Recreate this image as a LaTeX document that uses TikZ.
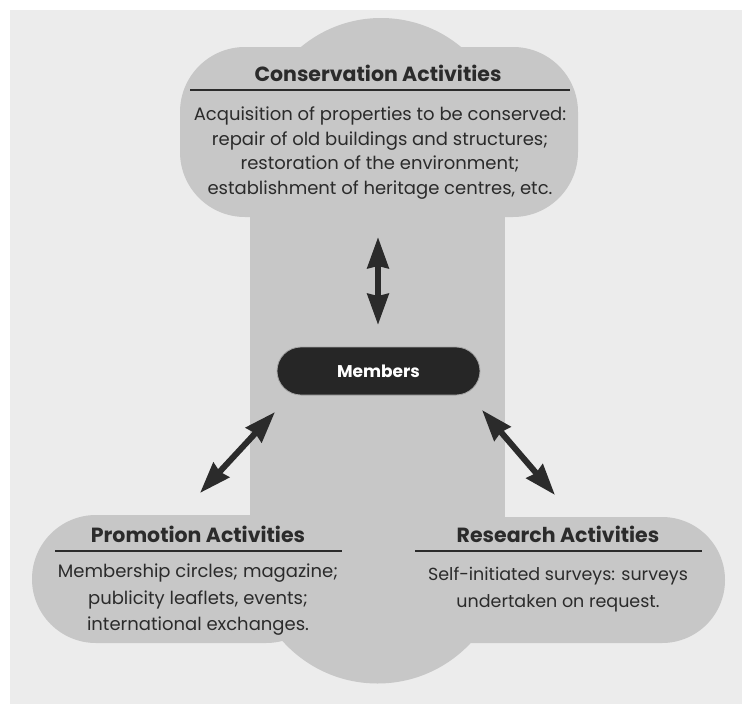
\documentclass[tikz,border=0pt]{standalone}
\usepackage{fontspec}
\setmainfont{Poppins}
\usetikzlibrary{arrows.meta}
\definecolor{bg}{HTML}{ECECEC}
\definecolor{shape}{HTML}{C7C7C7}
\definecolor{ink}{HTML}{2B2B2B}
\definecolor{memb}{HTML}{262626}
\begin{document}
\begin{tikzpicture}[x=1pt,y=-1pt,
  blob/.style={fill=shape, draw=none},
  titletext/.style={font=\fontsize{20.5}{24}\selectfont\bfseries, text=ink, inner sep=0pt},
  bodytext/.style={font=\fontsize{18}{24.5}\selectfont, text=ink, align=center, inner sep=0pt},
  titlerule/.style={draw=ink, line width=2.2pt},
  dblarrow/.style={draw=ink, line width=6pt, {Stealth[length=31pt,width=21pt,inset=2pt]}-{Stealth[length=31pt,width=21pt,inset=2pt]}}
]
\useasboundingbox (0,0) rectangle (742,704);
\fill[white] (0,0) rectangle (742,704);
\fill[bg] (10,10) rectangle (742,704);
% grey shapes
\fill[blob] (250,200) rectangle (505,556);
\fill[blob] (377.5,556) circle[radius=127.5];
\fill[blob, rounded corners=65pt] (180,47) rectangle (578,217);
\fill[blob] (381,143) circle[radius=125];
\fill[blob, rounded corners=64pt] (32,515) rectangle (330,643);
\fill[blob, rounded corners=63pt] (392,517) rectangle (725,643);
% texts
\node[titletext] (constitle) at (378,73) {Conservation Activities};
\draw[titlerule] (190,90) -- (570,90);
\node[bodytext] (consbody) at (380,153) {Acquisition of properties to be conserved:\\ repair of old buildings and structures;\\ restoration of the environment;\\ establishment of heritage centres, etc.};
\node[titletext] (promtitle) at (198,534) {Promotion Activities};
\draw[titlerule] (55,551) -- (342,551);
\node[bodytext, font=\fontsize{18}{26.5}\selectfont] (prombody) at (198,600) {Membership circles; magazine;\\ publicity leaflets, events;\\ international exchanges.};
\node[titletext] (restitle) at (558,534) {Research Activities};
\draw[titlerule] (415,551) -- (702,551);
\node[bodytext, font=\fontsize{17.5}{27}\selectfont] (resbody) at (558,590) {Self-initiated surveys: surveys\\ undertaken on request.};
\node[fill=memb, draw=gray!70, line width=0.8pt, rounded corners=24pt, minimum width=203pt, minimum height=48pt, text=white, font=\fontsize{17}{20}\selectfont\bfseries] (members) at (378.5,371) {Members};
% arrows
\coordinate (ctop) at (378,237);
\coordinate (cbot) at (378,325);
\coordinate (ltop) at (275,412);
\coordinate (lbot) at (200,493);
\coordinate (rtop) at (482,410);
\coordinate (rbot) at (555,495);
\draw[dblarrow] (ctop) -- (cbot);
\draw[dblarrow] (ltop) -- (lbot);
\draw[dblarrow] (rtop) -- (rbot);
\end{tikzpicture}
\end{document}
